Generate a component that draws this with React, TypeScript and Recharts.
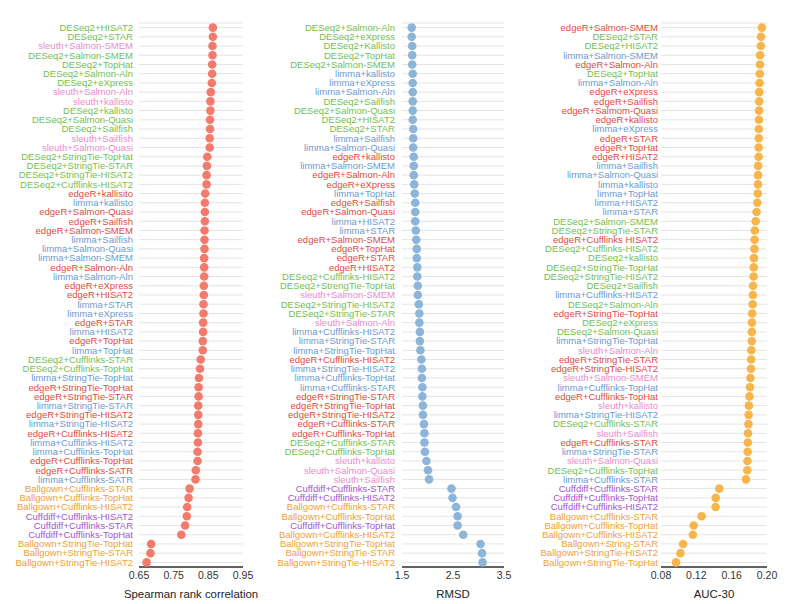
import React from 'react';
import {
  ScatterChart,
  Scatter,
  XAxis,
  YAxis,
  CartesianGrid,
} from 'recharts';

// Spearman rank correlation panel
const spearmanNames = [
  'DESeq2+HISAT2', 'DESeq2+STAR', 'sleuth+Salmon-SMEM', 'DESeq2+Salmon-SMEM', 'DESeq2+TopHat',
  'DESeq2+Salmon-Aln', 'DESeq2+eXpress', 'sleuth+Salmon-Aln', 'sleuth+kallisto', 'DESeq2+kallisto',
  'DESeq2+Salmon-Quasi', 'DESeq2+Sailfish', 'sleuth+Sailfish', 'sleuth+Salmon-Quasi', 'DESeq2+StringTie-TopHat',
  'DESeq2+StringTie-STAR', 'DESeq2+StringTie-HISAT2', 'DESeq2+Cufflinks-HISAT2', 'edgeR+kallisito', 'limma+kallisto',
  'edgeR+Salmon-Quasi', 'edgeR+Sailfish', 'edgeR+Salmon-SMEM', 'limma+Sailfish', 'limma+Salmon-Quasi',
  'limma+Salmon-SMEM', 'edgeR+Salmon-Aln', 'limma+Salmon-Aln', 'edgeR+eXpress', 'edgeR+HISAT2',
  'limma+STAR', 'limma+eXpress', 'edgeR+STAR', 'limma+HISAT2', 'edgeR+TopHat',
  'limma+TopHat', 'DESeq2+Cufflinks-STAR', 'DESeq2+Cufflinks-TopHat', 'limma+StringTie-TopHat', 'edgeR+StringTie-TopHat',
  'edgeR+StringTie-STAR', 'limma+StringTie-STAR', 'edgeR+StringTie-HISAT2', 'limma+StringTie-HISAT2', 'edgeR+Cufflinks-HISAT2',
  'limma+Cufflinks-HISAT2', 'limma+Cufflinks-TopHat', 'edgeR+Cufflinks-TopHat', 'edgeR+Cufflinks-SATR', 'limma+Cufflinks-SATR',
  'Ballgown+Cufflinks-STAR', 'Ballgown+Cufflinks-TopHat', 'Ballgown+Cufflinks-HISAT2', 'Cuffdiff+Cufflinks-HISAT2', 'Cuffdiff+Cufflinks-STAR',
  'Cuffdiff+Cufflinks-TopHat', 'Ballgown+StringTie-TopHat', 'Ballgown+StringTie-STAR', 'Ballgown+StringTie-HISAT2',
];
const spearmanValues = [
  0.863, 0.863, 0.862, 0.862, 0.861, 0.861, 0.860, 0.857, 0.856, 0.856,
  0.855, 0.855, 0.854, 0.854, 0.847, 0.846, 0.845, 0.845, 0.841, 0.840,
  0.840, 0.840, 0.839, 0.839, 0.839, 0.838, 0.838, 0.838, 0.837, 0.837,
  0.836, 0.836, 0.835, 0.835, 0.834, 0.834, 0.828, 0.826, 0.823, 0.822,
  0.822, 0.821, 0.821, 0.821, 0.820, 0.820, 0.819, 0.819, 0.814, 0.813,
  0.796, 0.793, 0.789, 0.788, 0.783, 0.772, 0.685, 0.683, 0.672,
];
const spearmanTicks = [0.65, 0.75, 0.85, 0.95];

// RMSD panel
const rmsdNames = [
  'DESeq2+Salmon-Aln', 'DESeq2+eXpress', 'DESeq2+Kallisto', 'DESeq2+TopHat', 'DESeq2+Salmon-SMEM',
  'limma+kallisto', 'limma+eXpress', 'limma+Salmon-Aln', 'DESeq2+Sailfish', 'DESeq2+Salmon-Quasi',
  'DESeq2+HISAT2', 'DESeq2+STAR', 'limma+Sailfish', 'limma+Salmon-Quasi', 'edgeR+kallisto',
  'limma+Salmon-SMEM', 'edgeR+Salmon-Aln', 'edgeR+eXpress', 'limma+TopHat', 'edgeR+Sailfish',
  'edgeR+Salmon-Quasi', 'limma+HISAT2', 'limma+STAR', 'edgeR+Salmon-SMEM', 'edgeR+TopHat',
  'edgeR+STAR', 'edgeR+HISAT2', 'DESeq2+Cufflinks-HISAT2', 'DESeq2+StrengTie-TopHat', 'sleuth+Salmon-SMEM',
  'DESeq2+StringTie-HISAT2', 'DESeq2+StringTie-STAR', 'sleuth+Salmon-Aln', 'limma+Cufflinks-HISAT2', 'limma+StringTie-STAR',
  'limma+StringTie-TopHat', 'edgeR+Cufflinks-HISAT2', 'limma+StringTie-HISAT2', 'limma+Cufflinks-TopHat', 'limma+Cufflinks-STAR',
  'edgeR+StringTie-STAR', 'edgeR+StringTie-TopHat', 'edgeR+StringTie-HISAT2', 'edgeR+Cufflinks-STAR', 'edgeR+Cufflinks-TopHat',
  'DESeq2+Cufflinks-STAR', 'DESeq2+Cufflinks-TopHat', 'sleuth+kallisto', 'sleuth+Salmon-Quasi', 'sleuth+Sailfish',
  'Cuffdiff+Cufflinks-STAR', 'Cuffdiff+Cufflinks-HISAT2', 'Ballgown+Cufflinks-STAR', 'Ballgown+Cufflinks-TopHat', 'Cuffdiff+Cufflinks-TopHat',
  'Ballgown+Cufflinks-HISAT2', 'Ballgown+StringTie-TopHat', 'Ballgown+StringTie-STAR', 'Ballgown+StringTie-HISAT2',
];
const rmsdValues = [
  1.69, 1.69, 1.70, 1.70, 1.70, 1.71, 1.71, 1.71, 1.71, 1.71,
  1.71, 1.72, 1.72, 1.72, 1.73, 1.73, 1.73, 1.74, 1.75, 1.76,
  1.76, 1.76, 1.77, 1.78, 1.79, 1.79, 1.80, 1.80, 1.81, 1.81,
  1.83, 1.84, 1.84, 1.85, 1.85, 1.86, 1.88, 1.89, 1.89, 1.90,
  1.90, 1.91, 1.91, 1.93, 1.94, 1.94, 1.95, 1.98, 2.01, 2.03,
  2.47, 2.49, 2.56, 2.59, 2.59, 2.70, 3.04, 3.07, 3.08,
];
const rmsdTicks = [1.5, 2.5, 3.5];

// AUC-30 panel
const aucNames = [
  'edgeR+Salmon-SMEM', 'DESeq2+STAR', 'DESeq2+HISAT2', 'limma+Salmon-SMEM', 'edgeR+Salmon-Aln',
  'DESeq2+TopHat', 'limma+Salmon-Aln', 'edgeR+eXpress', 'edgeR+Sailfish', 'edgeR+Salmom-Quasi',
  'edgeR+kallisto', 'limma+eXpress', 'edgeR+STAR', 'edgeR+TopHat', 'edgeR+HISAT2',
  'limma+Sailfish', 'limma+Salmon-Quasi', 'limma+kallisto', 'limma+TopHat', 'limma+HISAT2',
  'limma+STAR', 'DESeq2+Salmon-SMEM', 'DESeq2+StringTie-STAR', 'edgeR+Cufflinks HISAT2', 'DESeq2+Cufflinks-HISAT2',
  'DESeq2+kallisto', 'DESeq2+StringTie-TopHat', 'DESeq2+StringTie-HISAT2', 'DESeq2+Sailfish', 'limma+Cufflinks-HISAT2',
  'DESeq2+Salmon-Aln', 'edgeR+StringTie-TopHat', 'DESeq2+eXpress', 'DESeq2+Salmon-Quasi', 'limma+StringTie-TopHat',
  'sleuth+Salmon-Aln', 'edgeR+StringTie-STAR', 'edgeR+StringTie-HISAT2', 'sleuth+Salmon-SMEM', 'limma+Cufflinks-TopHat',
  'edgeR+Cufflinks-TopHat', 'sleuth+kallisto', 'limma+StringTie-HISAT2', 'DESeq2+Cufflinks-STAR', 'sleuth+Sailfish',
  'edgeR+Cufflinks-STAR', 'limma+StringTie-STAR', 'sleuth+Salmon-Quasi', 'DESeq2+Cufflinks-TopHat', 'limma+Cufflinks-STAR',
  'Cuffdiff+Cufflinks-STAR', 'Cuffdiff+Cufflinks-TopHat', 'Cuffdiff+Cufflinks-HISAT2', 'Ballgown+Cufflinks-STAR', 'Ballgown+Cufflinks-TopHat',
  'Ballgown+Cufflinks-HISAT2', 'Ballgown+String-STAR', 'Ballgown+StringTie-HISAT2', 'Ballgown+StringTie-TopHat',
];
const aucValues = [
  0.1942, 0.1932, 0.1930, 0.1922, 0.1920, 0.1918, 0.1916, 0.1912, 0.1911, 0.1910,
  0.1909, 0.1908, 0.1907, 0.1906, 0.1905, 0.1900, 0.1899, 0.1898, 0.1896, 0.1890,
  0.1882, 0.1872, 0.1862, 0.1860, 0.1858, 0.1852, 0.1850, 0.1848, 0.1842, 0.1840,
  0.1838, 0.1832, 0.1830, 0.1829, 0.1828, 0.1822, 0.1820, 0.1818, 0.1812, 0.1808,
  0.1802, 0.1795, 0.1792, 0.1790, 0.1785, 0.1783, 0.1781, 0.1779, 0.1777, 0.1762,
  0.146, 0.142, 0.1418, 0.126, 0.117, 0.116, 0.105, 0.102, 0.097,
];
const aucTicks = [0.08, 0.12, 0.16, 0.2];

const methodColors: Record<string, string> = {
  DESeq2: '#72bf53',
  edgeR: '#dc4c42',
  limma: '#6b9bd1',
  sleuth: '#e98ccc',
  Ballgown: '#f0a038',
  Cuffdiff: '#a454cf',
};

const FONT = '"Liberation Sans", Arial, Helvetica, sans-serif';

function MethodTick(props: any) {
  const { x, y, payload } = props;
  const name: string = payload.value;
  const color = methodColors[name.split('+')[0]] || '#333';
  return (
    <text x={x} y={y} dy="0.35em" textAnchor="end" fontSize={9.5} fill={color} fontFamily={FONT}>
      {name}
    </text>
  );
}

interface PanelProps {
  names: string[];
  values: number[];
  ticks: number[];
  domain: [number, number];
  title: string;
  dotColor: string;
  left: number;
  width: number;
  axisWidth: number;
  right: number;
  tickGap: number;
  fmt: (v: number) => string;
}

function Panel(p: PanelProps) {
  const data = p.names.map((name, i) => ({ name, value: p.values[i] }));
  return (
    <div style={{ position: 'absolute', left: p.left, top: 0 }}>
      <ScatterChart
        width={p.width}
        height={604}
        margin={{ top: 23, right: p.right, bottom: 0, left: 0 }}
      >
        <CartesianGrid vertical={false} stroke="#e4e4e4" strokeWidth={1} />
        <XAxis
          type="number"
          dataKey="value"
          domain={p.domain}
          ticks={p.ticks}
          allowDataOverflow
          tickLine={false}
          tickSize={3}
          axisLine={{ stroke: '#333', strokeWidth: 1.3 }}
          tick={{ fontSize: 10.5, fill: '#333', fontFamily: FONT }}
          tickFormatter={p.fmt}
          height={37}
          label={{
            value: p.title,
            position: 'insideBottom',
            offset: 6,
            fontSize: 11.4,
            fill: '#222',
            fontFamily: FONT,
          }}
        />
        <YAxis
          type="category"
          dataKey="name"
          reversed
          width={p.axisWidth}
          interval={0}
          tickLine={false}
          axisLine={false}
          tickSize={p.tickGap}
          tickMargin={0}
          tick={<MethodTick />}
        />
        <Scatter
          data={data}
          isAnimationActive={false}
          shape={(s: any) => <circle cx={s.cx} cy={s.cy} r={4.3} fill={p.dotColor} />}
        />
      </ScatterChart>
    </div>
  );
}

export default function App() {
  return (
    <div
      style={{
        position: 'absolute',
        left: 0,
        top: 0,
        width: 800,
        height: 604,
        background: '#fff',
        fontFamily: FONT,
      }}
    >
      <Panel
        names={rmsdNames}
        values={rmsdValues}
        ticks={rmsdTicks}
        domain={[1.5, 3.5]}
        title="RMSD"
        dotColor="#8db4d9"
        left={250}
        width={270}
        axisWidth={152}
        right={16}
        tickGap={7}
        fmt={(v) => v.toFixed(1)}
      />
      <Panel
        names={aucNames}
        values={aucValues}
        ticks={aucTicks}
        domain={[0.08, 0.2]}
        title="AUC-30"
        dotColor="#f8b54c"
        left={520}
        width={280}
        axisWidth={141}
        right={33}
        tickGap={3}
        fmt={(v) => v.toFixed(2)}
      />
      <Panel
        names={spearmanNames}
        values={spearmanValues}
        ticks={spearmanTicks}
        domain={[0.65, 0.95]}
        title="Spearman rank correlation"
        dotColor="#f47a6c"
        left={0}
        width={270}
        axisWidth={139}
        right={27}
        tickGap={6}
        fmt={(v) => v.toFixed(2)}
      />
    </div>
  );
}
